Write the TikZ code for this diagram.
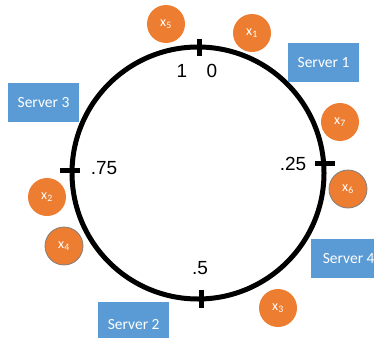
\documentclass[tikz,border=0pt]{standalone}
\usepackage{fontspec}
\setmainfont{Carlito}
\newfontfamily\numfont{Liberation Sans}
\definecolor{srvblue}{HTML}{5B9BD5}
\definecolor{keyorange}{HTML}{ED7D31}
\definecolor{rimgray}{HTML}{7F7F7F}
\begin{document}
\begin{tikzpicture}[x=1pt,y=-1pt,
  server/.style={fill=srvblue, draw=none, minimum width=71pt, minimum height=39pt, inner sep=0pt,
    text=white, font=\fontsize{15.5pt}{18pt}\selectfont},
  keynode/.style={circle, fill=keyorange, draw=none, minimum size=38pt, inner sep=0pt,
    text=white, font=\fontsize{14pt}{16pt}\selectfont},
  keyrim/.style={keynode, draw=rimgray, line width=0.8pt},
  poslabel/.style={font=\numfont\fontsize{19pt}{22pt}\selectfont, inner sep=0pt},
  ring/.style={line width=5pt, draw=black},
  tickmark/.style={line width=5pt, draw=black}]
\useasboundingbox (0,0) rectangle (374,337);
\begin{scope}
\clip (0,0) rectangle (374,337);
% ring
\coordinate (c) at (198,173);
\draw[ring] (c) circle[radius=126pt];
% ticks
\coordinate (t0a) at (199,39); \coordinate (t0b) at (199,56);
\coordinate (t1a) at (60,170); \coordinate (t1b) at (80,170);
\coordinate (t2a) at (315,163); \coordinate (t2b) at (335,163);
\coordinate (t3a) at (201,290); \coordinate (t3b) at (201,308);
\draw[tickmark] (t0a) -- (t0b);
\draw[tickmark] (t1a) -- (t1b);
\draw[tickmark] (t2a) -- (t2b);
\draw[tickmark] (t3a) -- (t3b);
% position labels
\node[poslabel] (one) at (182,71) {1};
\node[poslabel] (zero) at (212,71) {0};
\node[poslabel] (q75) at (104,168) {.75};
\node[poslabel] (q25) at (293,164) {.25};
\node[poslabel] (q5) at (200,268) {.5};
% servers
\node[server] (s1) at (323.5,62.5) {Server 1};
\node[server] (s3) at (43.5,102.5) {Server 3};
\node[server, minimum width=75pt, anchor=west] (s4) at (311,258.5) {Server 4};
\node[server, minimum height=44pt, anchor=north west] (s2) at (98,302) {Server 2};
% keys
\node[keynode] (x5) at (166,24) {x\textsubscript{5}};
\node[keynode] (x1) at (252,33) {x\textsubscript{1}};
\node[keynode] (x7) at (340,122) {x\textsubscript{7}};
\node[keyrim] (x6) at (348,189) {x\textsubscript{6}};
\node[keynode] (x2) at (47,197) {x\textsubscript{2}};
\node[keyrim] (x4) at (64,246) {x\textsubscript{4}};
\node[keynode] (x3) at (278,308) {x\textsubscript{3}};
\end{scope}
\end{tikzpicture}
\end{document}
